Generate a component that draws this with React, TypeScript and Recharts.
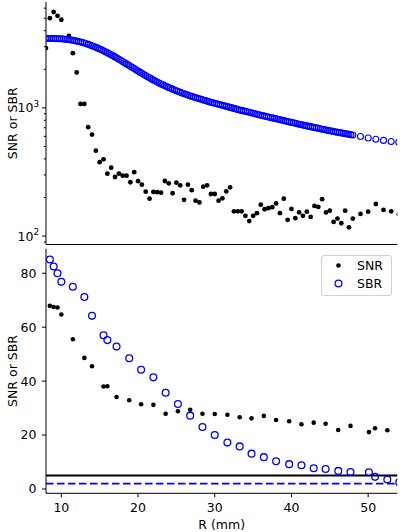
import {
  Label,
  ReferenceLine,
  Scatter,
  ScatterChart,
  XAxis,
  YAxis,
} from "recharts";

// top panel (log scale), SNR sampled every 0.5 mm then every 1 mm
const snrTopR = [
  8, 8.5, 9, 9.5, 10, 11, 11.5, 12, 12.5, 13, 13.5, 14, 14.5, 15, 15.5, 16,
  16.5, 17, 17.5, 18, 18.5, 19, 19.5, 20, 20.5, 21, 21.5, 22, 22.5, 23, 23.5,
  24, 24.5, 25, 25.5, 26, 26.5, 27, 27.5, 28, 28.5, 29, 29.5, 30, 30.5, 31,
  31.5, 32, 32.5, 33, 33.5, 34, 34.5, 35, 35.5, 36, 36.5, 37, 37.5, 38, 38.5,
  39, 39.5, 40, 40.5, 41, 41.5, 42, 42.5, 43, 43.5, 44, 44.5, 45, 45.5, 46,
  46.5, 47, 47.5, 48, 49, 50, 51, 52, 53, 54,
];
const snrTopV = [
  2930, 5010, 5600, 5230, 4870, 3650, 2670, 1890, 1075, 1075, 707, 619, 464,
  377, 397, 307, 342, 289, 307, 296, 296, 263, 315, 268, 252, 222, 196, 221,
  220, 218, 269, 258, 216, 261, 249, 192, 252, 228, 189, 183, 243, 249, 213,
  213, 189, 197, 223, 240, 156, 156, 156, 144, 131, 144, 151, 176, 162, 165,
  168, 180, 151, 196, 134, 163, 138, 153, 144, 155, 141, 172, 169, 194, 153,
  158, 129, 137, 126, 158, 117, 137, 149, 155, 178, 160, 156, 148,
];

// SBR, dense sampling up to 48 mm
const sbrTopR = [
  8, 8.25, 8.5, 8.75, 9, 9.25, 9.5, 9.75,
  10, 10.25, 10.5, 10.75, 11, 11.25, 11.5, 11.75,
  12, 12.25, 12.5, 12.75, 13, 13.25, 13.5, 13.75,
  14, 14.25, 14.5, 14.75, 15, 15.25, 15.5, 15.75,
  16, 16.25, 16.5, 16.75, 17, 17.25, 17.5, 17.75,
  18, 18.25, 18.5, 18.75, 19, 19.25, 19.5, 19.75,
  20, 20.25, 20.5, 20.75, 21, 21.25, 21.5, 21.75,
  22, 22.25, 22.5, 22.75, 23, 23.25, 23.5, 23.75,
  24, 24.25, 24.5, 24.75, 25, 25.25, 25.5, 25.75,
  26, 26.25, 26.5, 26.75, 27, 27.25, 27.5, 27.75,
  28, 28.25, 28.5, 28.75, 29, 29.25, 29.5, 29.75,
  30, 30.25, 30.5, 30.75, 31, 31.25, 31.5, 31.75,
  32, 32.25, 32.5, 32.75, 33, 33.25, 33.5, 33.75,
  34, 34.25, 34.5, 34.75, 35, 35.25, 35.5, 35.75,
  36, 36.25, 36.5, 36.75, 37, 37.25, 37.5, 37.75,
  38, 38.25, 38.5, 38.75, 39, 39.25, 39.5, 39.75,
  40, 40.25, 40.5, 40.75, 41, 41.25, 41.5, 41.75,
  42, 42.25, 42.5, 42.75, 43, 43.25, 43.5, 43.75,
  44, 44.25, 44.5, 44.75, 45, 45.25, 45.5, 45.75,
  46, 46.25, 46.5, 46.75, 47, 47.25, 47.5, 47.75,
  48, 49, 50, 51, 52, 53, 54,
];
const sbrTopV = [
  3475, 3475, 3475, 3475, 3475, 3471, 3467, 3463,
  3459, 3447, 3436, 3424, 3412, 3390, 3369, 3348,
  3327, 3296, 3266, 3236, 3206, 3168, 3130, 3092,
  3055, 3011, 2968, 2925, 2884, 2836, 2789, 2743,
  2698, 2647, 2597, 2548, 2500, 2449, 2399, 2350,
  2301, 2253, 2205, 2159, 2113, 2069, 2025, 1982,
  1941, 1901, 1862, 1824, 1786, 1752, 1718, 1684,
  1652, 1623, 1594, 1566, 1538, 1514, 1489, 1466,
  1442, 1422, 1401, 1381, 1361, 1343, 1326, 1308,
  1291, 1276, 1260, 1245, 1230, 1217, 1203, 1190,
  1178, 1166, 1153, 1142, 1130, 1119, 1108, 1097,
  1086, 1076, 1067, 1057, 1047, 1038, 1028, 1019,
  1009, 1000, 991, 982, 973, 964, 956, 948,
  940, 932, 924, 916, 908, 900, 892, 885,
  877, 870, 863, 856, 849, 842, 836, 829,
  822, 816, 809, 803, 796, 790, 783, 777,
  771, 765, 759, 753, 746, 741, 735, 730,
  724, 719, 714, 708, 703, 698, 693, 688,
  682, 678, 673, 668, 664, 659, 655, 650,
  646, 642, 638, 634, 630, 626, 622, 618,
  614, 598, 583, 569, 558, 547, 540,
];

// bottom panel (linear)
const botR = [
  8.5, 9, 9.5, 10, 11.5, 13, 14, 15.5, 16, 17.2, 18.85, 20.4, 22, 23.6, 25.2,
  26.8, 28.4, 30, 31.65, 33.25, 34.8, 36.4, 38, 39.7, 41.3, 42.9, 44.45, 46.1,
  47.7, 50.1, 50.9, 52.5, 54.05,
];
const snrBotV = [
  67.9, 67.5, 67.3, 64.7, 55.5, 48.6, 45.5, 38.0, 38.1, 34.1, 32.9, 31.4, 31.2,
  27.9, 28.8, 29.4, 27.9, 27.8, 27.5, 26.6, 26.2, 27.1, 25.6, 25.1, 24.0, 24.6,
  24.2, 21.9, 23.4, 21.1, 22.5, 21.8,
];
const sbrBotV = [
  85.1, 82.5, 80.0, 76.8, 75.0, 71.2, 64.2, 57.0, 55.2, 52.8, 48.5, 44.2, 41.4,
  35.7, 31.5, 27.2, 23.0, 20.0, 17.2, 15.8, 13.1, 11.8, 10.3, 9.2, 8.8, 7.7, 7.4,
  6.7, 6.3, 6.2, 4.5, 3.5, 2.5,
];

const snrLimit = 5;
const sbrLimit = 2;

const xTicks = [10, 20, 30, 40, 50];
const logTicks = [
  90, 100, 200, 300, 400, 500, 600, 700, 800, 900, 1000, 2000, 3000, 4000,
  5000, 6000,
];
const linTicks = [0, 20, 40, 60, 80];

const zip = (rs: number[], vs: number[]) =>
  vs.map((v, i) => ({ r: rs[i], v }));

const FONT = "'DejaVu Sans', sans-serif";
const BLUE = "#0000ff";

const LogTick = (props: any) => {
  const { x, y, payload } = props;
  const v = payload.value;
  const ax = x + 3 + 4;
  const major = v === 100 || v === 1000;
  return (
    <g>
      <line x1={ax - (major ? 4 : 2.2)} x2={ax} y1={y} y2={y} stroke='#000' strokeWidth={1} />
      {major && (
        <text x={x} y={y} dy='0.36em' textAnchor='end' fontSize={12.5} fill='#000'>
          <tspan>10</tspan>
          <tspan dy={-5.6} fontSize={8.8}>
            {v === 100 ? "2" : "3"}
          </tspan>
        </text>
      )}
    </g>
  );
};

const yLabel = (props: any) => {
  const { viewBox } = props;
  const cy = viewBox.y + viewBox.height / 2;
  return (
    <text
      x={16.5}
      y={cy}
      transform={`rotate(-90 16.5 ${cy})`}
      textAnchor='middle'
      fontSize={12.5}
      fill='#000'>
      SNR or SBR
    </text>
  );
};

const xLabel = (props: any) => {
  const { viewBox } = props;
  return (
    <text
      x={viewBox.x + viewBox.width / 2}
      y={viewBox.y + 35.5}
      textAnchor='middle'
      fontSize={12.5}
      fill='#000'>
      R (mm)
    </text>
  );
};

const dot = (r: number) => (p: any) =>
  <circle cx={p.cx} cy={p.cy} r={r} fill='#000' />;
const ring = (r: number, w: number) => (p: any) =>
  <circle cx={p.cx} cy={p.cy} r={r} fill='none' stroke={BLUE} strokeWidth={w} />;

const frameAxes = (dom: [number, number]) => [
  <XAxis
    key='ft'
    xAxisId='top'
    orientation='top'
    type='number'
    domain={[8, 53.8]}
    height={0}
    tick={false}
    tickLine={false}
    axisLine={{ stroke: "#000" }}
  />,
  <YAxis
    key='fr'
    yAxisId='right'
    orientation='right'
    type='number'
    domain={dom}
    width={0}
    tick={false}
    tickLine={false}
    axisLine={{ stroke: "#000" }}
  />,
];

const App = () => {
  return (
    <div
      style={{
        position: "absolute",
        left: 0,
        top: 0,
        width: 400,
        height: 532,
        background: "#fff",
        fontFamily: FONT,
      }}>
      <div style={{ position: "absolute", left: 0, top: 0 }}>
        <ScatterChart
          width={400}
          height={249}
          margin={{ top: 2, right: 2.7, bottom: 0, left: 0 }}>
          <XAxis
            dataKey='r'
            type='number'
            domain={[8, 53.8]}
            allowDataOverflow
            ticks={xTicks}
            tick={false}
            tickSize={4}
            height={4.5}
            axisLine={{ stroke: "#000" }}
            tickLine={{ stroke: "#000" }}
          />
          <YAxis
            dataKey='v'
            type='number'
            scale='log'
            domain={[86, 6700]}
            allowDataOverflow
            ticks={logTicks}
            interval={0}
            tick={<LogTick />}
            tickLine={false}
            tickSize={4}
            tickMargin={3}
            width={46}
            axisLine={{ stroke: "#000" }}>
            <Label content={yLabel} />
          </YAxis>
          {frameAxes([0, 1])}
          <Scatter
            data={zip(snrTopR, snrTopV)}
            fill='#000'
            shape={dot(2.4)}
            isAnimationActive={false}
          />
          <Scatter
            data={zip(sbrTopR, sbrTopV)}
            fill={BLUE}
            shape={ring(3, 1.1)}
            isAnimationActive={false}
          />
        </ScatterChart>
      </div>
      <div style={{ position: "absolute", left: 0, top: 248 }}>
        <ScatterChart
          width={400}
          height={284}
          margin={{ top: 0.7, right: 2.7, bottom: 0, left: 0 }}>
          <XAxis
            dataKey='r'
            type='number'
            domain={[8, 53.8]}
            allowDataOverflow
            ticks={xTicks}
            interval={0}
            tickSize={4}
            tickMargin={6}
            height={38.7}
            tick={{ fill: "#000", fontSize: 12.5 }}
            axisLine={{ stroke: "#000" }}
            tickLine={{ stroke: "#000" }}>
            <Label content={xLabel} />
          </XAxis>
          <YAxis
            dataKey='v'
            type='number'
            domain={[-1.6, 89.1]}
            allowDataOverflow
            ticks={linTicks}
            interval={0}
            tickSize={4}
            tickMargin={5.5}
            width={46}
            tick={{ fill: "#000", fontSize: 12.5 }}
            axisLine={{ stroke: "#000" }}
            tickLine={{ stroke: "#000" }}>
            <Label content={yLabel} />
          </YAxis>
          {frameAxes([0, 1])}
          <Scatter
            data={zip(botR, snrBotV)}
            fill='#000'
            shape={dot(2.3)}
            isAnimationActive={false}
          />
          <Scatter
            data={zip(botR, sbrBotV)}
            fill={BLUE}
            shape={ring(3.4, 1.3)}
            isAnimationActive={false}
          />
          <ReferenceLine y={snrLimit} stroke='#000' strokeWidth={1.8} />
          <ReferenceLine
            y={sbrLimit}
            stroke={BLUE}
            strokeWidth={1.8}
            strokeDasharray='7.5 3.5'
          />
        </ScatterChart>
      </div>
      <div
        style={{
          position: "absolute",
          left: 320.5,
          top: 255,
          width: 71.5,
          height: 41,
          boxSizing: "border-box",
          border: "1px solid #d0d0d0",
          borderRadius: 3,
          background: "rgba(255,255,255,0.8)",
        }}>
        <svg width={70} height={39} style={{ position: "absolute", left: 0, top: 0 }}>
          <circle cx={16.5} cy={9.5} r={2.3} fill='#000' />
          <text x={35} y={9.5} dy='0.36em' fontSize={12.5} fill='#000'>
            SNR
          </text>
          <circle cx={16.5} cy={27.5} r={3.4} fill='none' stroke={BLUE} strokeWidth={1.3} />
          <text x={35} y={27.5} dy='0.36em' fontSize={12.5} fill='#000'>
            SBR
          </text>
        </svg>
      </div>
    </div>
  );
};

export default App;
